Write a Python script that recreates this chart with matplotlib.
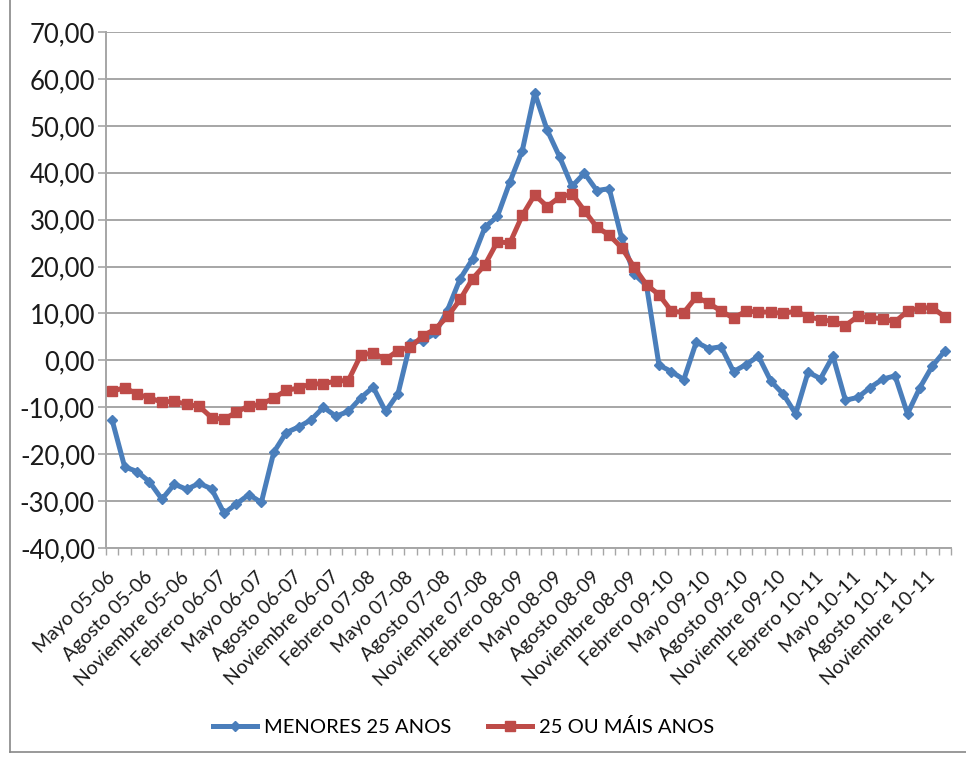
import numpy as np
import matplotlib.pyplot as plt
from matplotlib.lines import Line2D

# Data
menores = [-12.8, -22.7, -23.7, -25.9, -29.6, -26.4, -27.5, -26.2, -27.4, -32.6,
           -30.6, -28.6, -30.3, -19.6, -15.4, -14.2, -12.7, -10.0, -11.9, -10.9,
           -8.0, -5.7, -10.9, -7.1, 3.8, 4.2, 5.8, 10.8, 17.4, 21.6,
           28.4, 30.7, 38.0, 44.7, 57.0, 49.1, 43.4, 37.1, 39.9, 36.2,
           36.6, 26.0, 18.4, 15.9, -1.0, -2.4, -4.1, 3.9, 2.5, 2.9,
           -2.4, -0.9, 0.9, -4.4, -7.2, -11.4, -2.5, -3.9, 0.9, -8.5,
           -7.9, -5.8, -4.0, -3.3, -11.4, -5.8, -1.2, 2.0]
mais25 = [-6.6, -5.8, -7.2, -8.0, -8.9, -8.7, -9.4, -9.8, -12.2, -12.6,
          -11.0, -9.7, -9.4, -8.0, -6.4, -5.9, -5.0, -5.0, -4.4, -4.3,
          1.1, 1.6, 0.2, 2.1, 2.8, 5.2, 6.7, 9.4, 13.0, 17.4,
          20.4, 25.3, 25.0, 30.9, 35.3, 32.8, 34.8, 35.5, 31.9, 28.4,
          26.7, 24.0, 19.9, 16.1, 14.0, 10.5, 10.2, 13.5, 12.2, 10.5,
          9.0, 10.5, 10.3, 10.3, 10.0, 10.5, 9.3, 8.7, 8.3, 7.4,
          9.4, 9.1, 8.9, 8.2, 10.5, 11.2, 11.2, 9.3]
tick_labels = ["Mayo 05-06", "Agosto 05-06", "Noviembre 05-06", "Febrero 06-07",
               "Mayo 06-07", "Agosto 06-07", "Noviembre 06-07", "Febrero 07-08",
               "Mayo 07-08", "Agosto 07-08", "Noviembre 07-08", "Febrero 08-09",
               "Mayo 08-09", "Agosto 08-09", "Noviembre 08-09", "Febrero 09-10",
               "Mayo 09-10", "Agosto 09-10", "Noviembre 09-10", "Febrero 10-11",
               "Mayo 10-11", "Agosto 10-11", "Noviembre 10-11"]
series_names = ["MENORES 25 ANOS", "25 OU MÁIS ANOS"]

plt.rcParams['font.family'] = ['Lato', 'DejaVu Sans']

blue = "#4A7EBB"
red = "#BE4B48"
grid = "#A6A6A6"

fig = plt.figure(figsize=(9.66, 7.58), dpi=100)
ax = fig.add_axes([106 / 966, 1 - 548 / 758, (951 - 106) / 966, (548 - 32) / 758])

x = np.arange(len(menores))
ax.plot(x, menores, color=blue, lw=3.6, marker="D", ms=5, mec=blue, mfc=blue,
        solid_joinstyle="round", zorder=3)
ax.plot(x, mais25, color=red, lw=3.6, marker="s", ms=7, mec=red, mfc=red,
        solid_joinstyle="round", zorder=3)

ax.set_xlim(-0.5, len(menores) - 0.5)
ax.set_ylim(-40, 70)
ax.set_yticks(np.arange(-40, 71, 10))
ax.set_yticklabels([f"{v:.2f}".replace(".", ",") for v in np.arange(-40, 71, 10)],
                   fontsize=18.5, color="#1a1a1a")
ax.yaxis.grid(True, color=grid, lw=1.4)
ax.set_axisbelow(True)

ax.set_xticks(np.arange(0, len(menores), 3))
ax.set_xticklabels(tick_labels, rotation=45, ha="right", va="center",
                   rotation_mode="anchor", fontsize=14, color="#1a1a1a")
ax.set_xticks(np.arange(-0.5, len(menores), 1), minor=True)
ax.tick_params(axis="x", which="major", length=0, pad=19)
ax.tick_params(axis="x", which="minor", length=5, width=1, color=grid)
ax.tick_params(axis="y", length=6, width=1.2, color=grid, pad=2)

for s in ["top", "right"]:
    ax.spines[s].set_visible(False)
for s in ["left", "bottom"]:
    ax.spines[s].set_color(grid)
    ax.spines[s].set_linewidth(1.4)

handles = [Line2D([], [], color=blue, lw=3.6, marker="D", ms=5),
           Line2D([], [], color=red, lw=3.6, marker="s", ms=7)]
fig.legend(handles, series_names, loc="center", bbox_to_anchor=(0.48, 1 - 727 / 758),
           ncol=2, frameon=False, fontsize=14.5, handlelength=2.2, columnspacing=1.8,
           handletextpad=0.35)

# chart area border (left and bottom visible in the reference)
fig.add_artist(Line2D([10 / 966, 10 / 966], [1 - 752 / 758, 1], color="#888888", lw=1.2))
fig.add_artist(Line2D([10 / 966, 1], [1 - 752 / 758, 1 - 752 / 758], color="#888888", lw=1.2))

fig.savefig("out.png", dpi=100)
